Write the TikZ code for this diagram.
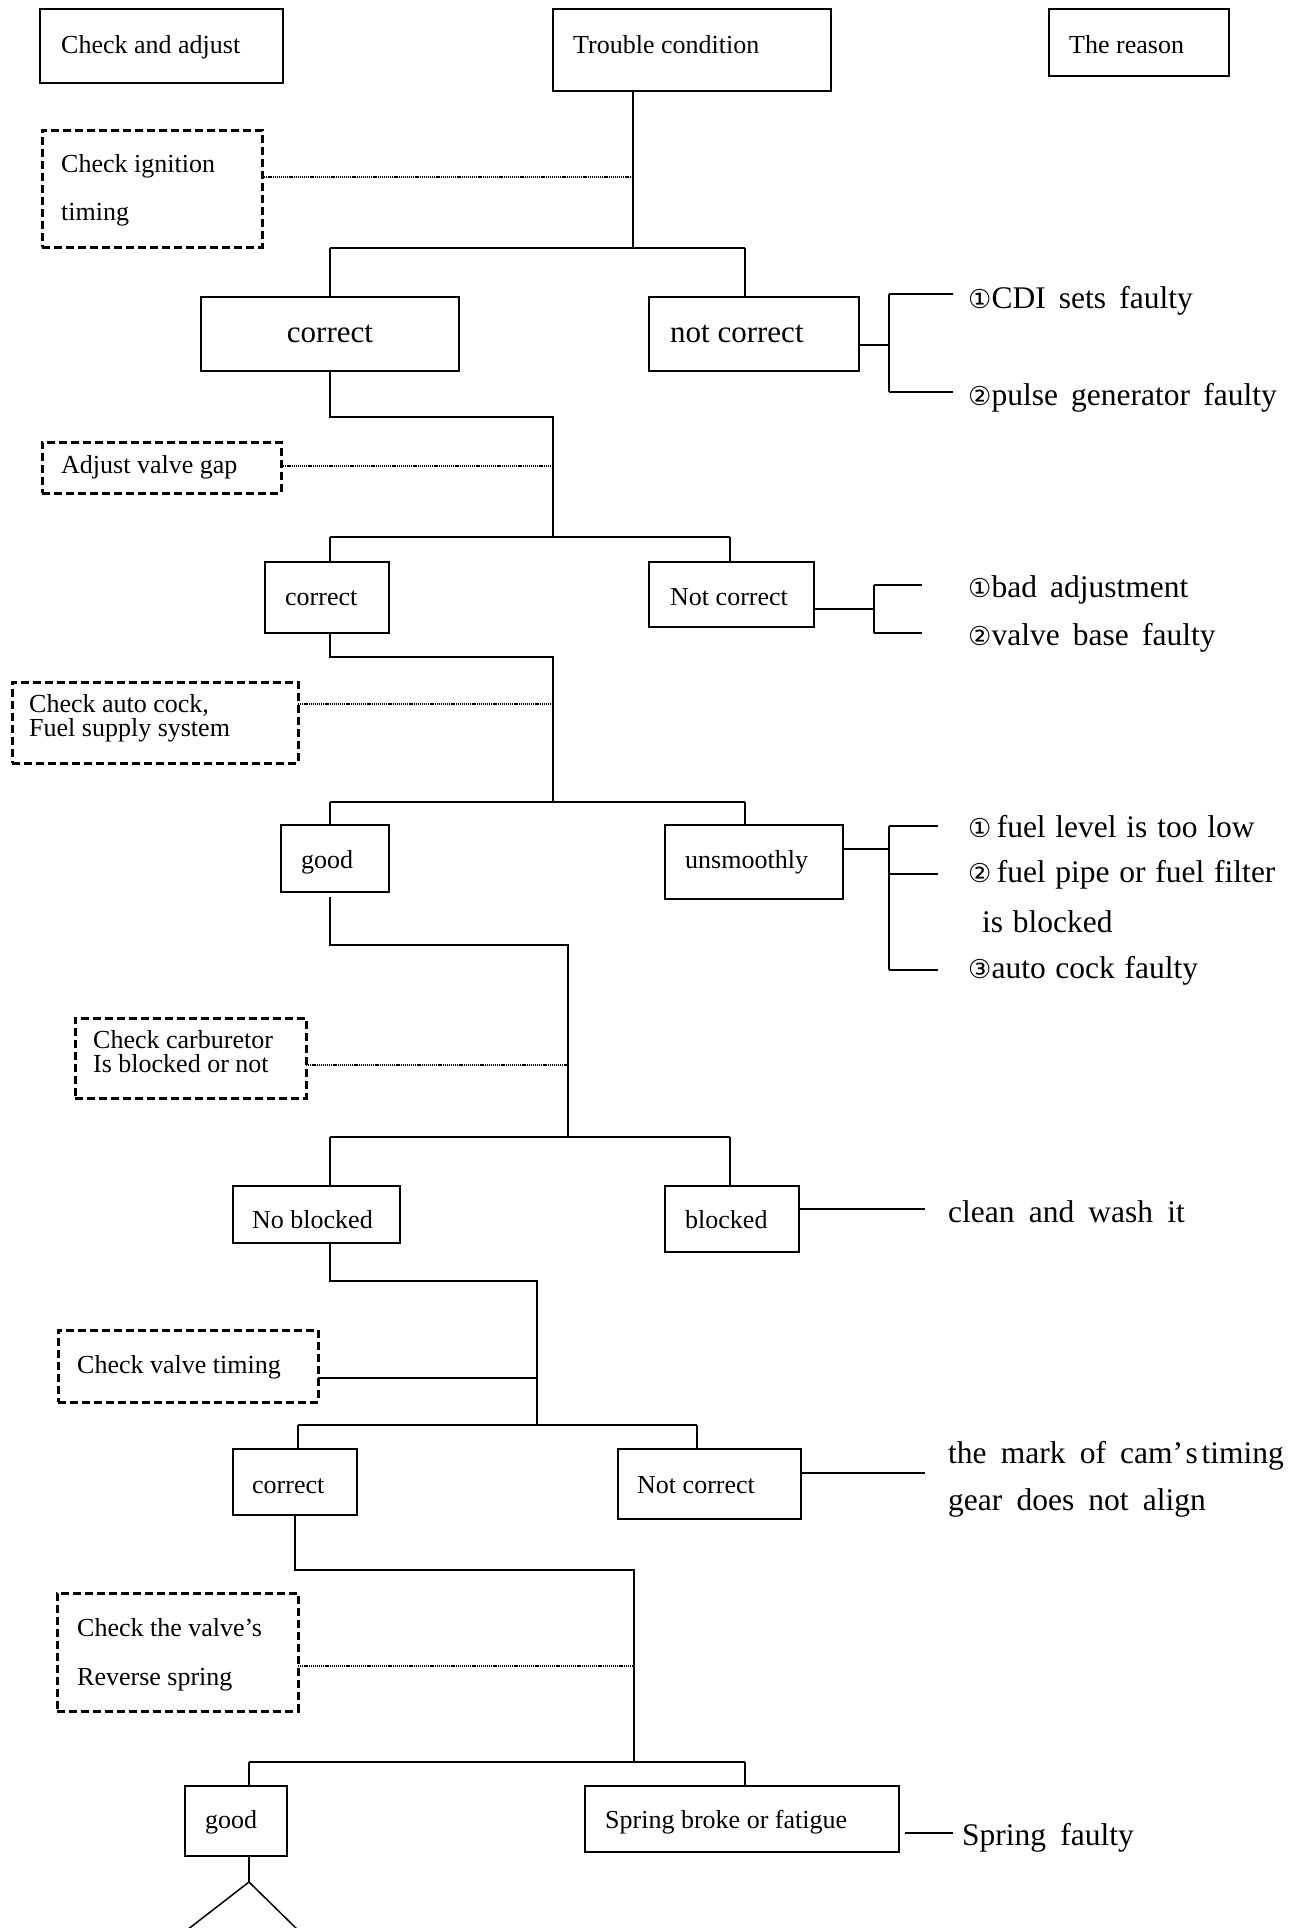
\documentclass[tikz,border=0pt]{standalone}
\usepackage{fontspec}
\setmainfont{Liberation Serif}
\newfontfamily\cfnt{DejaVu Sans}
\newcommand{\cnum}[1]{{\cfnt\fontsize{26}{30}\selectfont #1}}
\newcommand{\wsp}[1]{\spaceskip=#1\relax}
\tikzset{
  box/.style={draw, line width=1.9pt, inner sep=0pt, outer sep=0pt},
  dbox/.style={draw, line width=3pt, dash pattern=on 8pt off 4pt, inner sep=0pt, outer sep=0pt},
  ln/.style={line width=1.5pt},
  dotln/.style={line width=1.3pt, dash pattern=on 1.2pt off 0.9pt},
  sm/.style={anchor=base west, inner sep=0pt, font=\fontsize{26}{30}\selectfont},
  md/.style={anchor=base west, inner sep=0pt, font=\fontsize{31}{36}\selectfont},
  rt/.style={anchor=base west, inner sep=0pt, font=\fontsize{31.5}{36}\selectfont},
}
\begin{document}
\begin{tikzpicture}[x=1pt,y=-1pt]
\useasboundingbox (0,0) rectangle (1305,1928);

% ---------- headers
\node[box,minimum width=243pt,minimum height=74pt] (hCA) at (161.5,46) {};
\node[sm] (tCA) at (61,53) {Check and adjust};
\node[box,minimum width=278pt,minimum height=82pt] (hTC) at (692,50) {};
\node[sm] (tTC) at (573,53) {Trouble condition};
\node[box,minimum width=180pt,minimum height=67pt] (hTR) at (1139,42.5) {};
\node[sm] (tTR) at (1069,53) {The reason};

% ---------- step 1: ignition timing
\node[dbox,minimum width=220pt,minimum height=117pt] (d1) at (152,188.5) {};
\node[sm] (d1a) at (61,172) {Check ignition};
\node[sm] (d1b) at (61,220) {timing};
\coordinate (s1) at (633,248);
\coordinate (k1) at (633,177);
\draw[ln] (hTC.south -| s1) -- (s1);
\draw[dotln] (d1.east |- k1) -- (k1);
\coordinate (r1l) at (330,248);
\coordinate (r1r) at (745,248);
\draw[ln] (r1l) -- (r1r);
\node[box,minimum width=258pt,minimum height=74pt] (c1) at (330,334) {};
\node[md,anchor=base] (tc1) at (330,342) {correct};
\node[box,minimum width=210pt,minimum height=74pt] (n1) at (754,334) {};
\node[md] (tn1) at (670,342) {not correct};
\draw[ln] (r1l) -- (r1l |- c1.north);
\draw[ln] (r1r) -- (r1r |- n1.north);
\coordinate (b1) at (889,345);
\coordinate (b1t) at (889,294);
\coordinate (b1b) at (889,392);
\coordinate (e1t) at (953,294);
\coordinate (e1b) at (953,392);
\draw[ln] (n1.east |- b1) -- (b1);
\draw[ln] (b1t) -- (b1b);
\draw[ln] (b1t) -- (e1t);
\draw[ln] (b1b) -- (e1b);
\node[rt] (r1a) at (968,308) {\wsp{0.42em}\cnum{①}CDI sets faulty};
\node[rt] (r1b) at (968,405) {\wsp{0.42em}\cnum{②}pulse generator faulty};

% ---------- step 2: valve gap
\coordinate (s2a) at (330,417);
\coordinate (s2b) at (553,417);
\coordinate (s2) at (553,537);
\draw[ln] (c1.south) -- (s2a) -- (s2b) -- (s2);
\node[dbox,minimum width=239pt,minimum height=51pt] (d2) at (161.5,467.5) {};
\node[sm] (d2a) at (61,473) {Adjust valve gap};
\coordinate (k2) at (553,466);
\draw[dotln] (d2.east |- k2) -- (k2);
\coordinate (r2l) at (330,537);
\coordinate (r2r) at (730,537);
\draw[ln] (r2l) -- (r2r);
\node[box,minimum width=124pt,minimum height=71pt] (c2) at (327,597.5) {};
\node[sm] (tc2) at (285,605) {correct};
\node[box,minimum width=165pt,minimum height=65pt] (n2) at (731.5,594.5) {};
\node[sm] (tn2) at (670,605) {Not correct};
\draw[ln] (r2l) -- (r2l |- c2.north);
\draw[ln] (r2r) -- (r2r |- n2.north);
\coordinate (b2) at (874,609);
\coordinate (b2t) at (874,585);
\coordinate (b2b) at (874,633);
\coordinate (e2t) at (922,585);
\coordinate (e2b) at (922,633);
\draw[ln] (n2.east |- b2) -- (b2);
\draw[ln] (b2t) -- (b2b);
\draw[ln] (b2t) -- (e2t);
\draw[ln] (b2b) -- (e2b);
\node[rt] (r2a) at (968,597) {\wsp{0.42em}\cnum{①}bad adjustment};
\node[rt] (r2b) at (968,645) {\wsp{0.42em}\cnum{②}valve base faulty};

% ---------- step 3: fuel supply
\coordinate (s3a) at (330,657);
\coordinate (s3b) at (553,657);
\coordinate (s3) at (553,802);
\draw[ln] (c2.south -| s3a) -- (s3a) -- (s3b) -- (s3);
\node[dbox,minimum width=286pt,minimum height=81pt] (d3) at (155,722.5) {};
\node[sm] (d3a) at (29,712) {Check auto cock,};
\node[sm] (d3b) at (29,736) {Fuel supply system};
\coordinate (k3) at (553,704);
\draw[dotln] (d3.east |- k3) -- (k3);
\coordinate (r3l) at (330,802);
\coordinate (r3r) at (745,802);
\draw[ln] (r3l) -- (r3r);
\node[box,minimum width=108pt,minimum height=67pt] (g3) at (335,858.5) {};
\node[sm] (tg3) at (301,868) {good};
\node[box,minimum width=178pt,minimum height=74pt] (u3) at (754,862) {};
\node[sm] (tu3) at (685,868) {unsmoothly};
\draw[ln] (r3l) -- (r3l |- g3.north);
\draw[ln] (r3r) -- (r3r |- u3.north);
\coordinate (b3) at (889,849);
\coordinate (b3t) at (889,826);
\coordinate (b3m) at (889,874);
\coordinate (b3b) at (889,970);
\coordinate (e3t) at (938,826);
\coordinate (e3m) at (938,874);
\coordinate (e3b) at (938,970);
\draw[ln] (u3.east |- b3) -- (b3);
\draw[ln] (b3t) -- (b3b);
\draw[ln] (b3t) -- (e3t);
\draw[ln] (b3m) -- (e3m);
\draw[ln] (b3b) -- (e3b);
\node[rt] (r3a) at (968,837) {\wsp{0.31em}\cnum{①}\,fuel level is too low};
\node[rt] (r3b) at (968,882) {\wsp{0.31em}\cnum{②}\,fuel pipe or fuel filter};
\node[rt] (r3c) at (982,932) {\wsp{0.31em}is blocked};
\node[rt] (r3d) at (968,978) {\wsp{0.31em}\cnum{③}auto cock faulty};

% ---------- step 4: carburetor
\coordinate (s4t) at (330,897);
\coordinate (s4a) at (330,945);
\coordinate (s4b) at (568,945);
\coordinate (s4) at (568,1137);
\draw[ln] (s4t) -- (s4a) -- (s4b) -- (s4);
\node[dbox,minimum width=231pt,minimum height=80pt] (d4) at (190.5,1058) {};
\node[sm] (d4a) at (93,1048) {Check carburetor};
\node[sm] (d4b) at (93,1072) {Is blocked or not};
\coordinate (k4) at (568,1065);
\draw[dotln] (d4.east |- k4) -- (k4);
\coordinate (r4l) at (330,1137);
\coordinate (r4r) at (730,1137);
\draw[ln] (r4l) -- (r4r);
\node[box,minimum width=167pt,minimum height=57pt] (nb) at (316.5,1214.5) {};
\node[sm] (tnb) at (252,1228) {No blocked};
\node[box,minimum width=134pt,minimum height=66pt] (bl) at (732,1219) {};
\node[sm] (tbl) at (685,1228) {blocked};
\draw[ln] (r4l) -- (r4l |- nb.north);
\draw[ln] (r4r) -- (r4r |- bl.north);
\coordinate (e4) at (925,1209);
\draw[ln] (bl.east |- e4) -- (e4);
\node[rt] (r4a) at (948,1222) {\wsp{0.45em}clean and wash it};

% ---------- step 5: valve timing
\coordinate (s5a) at (330,1281);
\coordinate (s5b) at (537,1281);
\coordinate (s5) at (537,1425);
\draw[ln] (nb.south -| s5a) -- (s5a) -- (s5b) -- (s5);
\node[dbox,minimum width=260pt,minimum height=72pt] (d5) at (188,1366) {};
\node[sm] (d5a) at (77,1373) {Check valve timing};
\coordinate (k5) at (537,1378);
\draw[ln] (d5.east |- k5) -- (k5);
\coordinate (r5l) at (298,1425);
\coordinate (r5r) at (697,1425);
\draw[ln] (r5l) -- (r5r);
\node[box,minimum width=124pt,minimum height=66pt] (c5) at (295,1482) {};
\node[sm] (tc5) at (252,1493) {correct};
\node[box,minimum width=183pt,minimum height=70pt] (n5) at (709.5,1484) {};
\node[sm] (tn5) at (637,1493) {Not correct};
\draw[ln] (r5l) -- (r5l |- c5.north);
\draw[ln] (r5r) -- (r5r |- n5.north);
\coordinate (e5) at (925,1473);
\draw[ln] (n5.east |- e5) -- (e5);
\node[rt] (r5a) at (948,1463) {\wsp{0.45em}the mark of cam’\hspace{0.08em}s\hspace{0.12em}timing};
\node[rt] (r5b) at (948,1510) {\wsp{0.45em}gear does not align};

% ---------- step 6: reverse spring
\coordinate (s6a) at (295,1570);
\coordinate (s6b) at (634,1570);
\coordinate (s6) at (634,1762);
\draw[ln] (c5.south) -- (s6a) -- (s6b) -- (s6);
\node[dbox,minimum width=241pt,minimum height=118pt] (d6) at (177.5,1652) {};
\node[sm] (d6a) at (77,1636) {Check the valve’s};
\node[sm] (d6b) at (77,1685) {Reverse spring};
\coordinate (k6) at (634,1666);
\draw[dotln] (d6.east |- k6) -- (k6);
\coordinate (r6l) at (249,1762);
\coordinate (r6r) at (745,1762);
\draw[ln] (r6l) -- (r6r);
\node[box,minimum width=102pt,minimum height=70pt] (g6) at (236,1821) {};
\node[sm] (tg6) at (205,1828) {good};
\node[box,minimum width=314pt,minimum height=66pt] (sb) at (742,1819) {};
\node[sm] (tsb) at (605,1828) {Spring broke or fatigue};
\draw[ln] (r6l) -- (r6l |- g6.north);
\draw[ln] (r6r) -- (r6r |- sb.north);
\coordinate (e6a) at (905,1833);
\coordinate (e6b) at (953,1833);
\draw[ln] (e6a) -- (e6b);
\node[rt] (r6a) at (962,1845) {\wsp{0.45em}Spring faulty};
\coordinate (v0) at (249,1882);
\coordinate (vl) at (187,1930);
\coordinate (vr) at (298,1930);
\draw[ln] (g6.south -| v0) -- (v0);
\draw[ln] (vl) -- (v0) -- (vr);
\end{tikzpicture}
\end{document}
